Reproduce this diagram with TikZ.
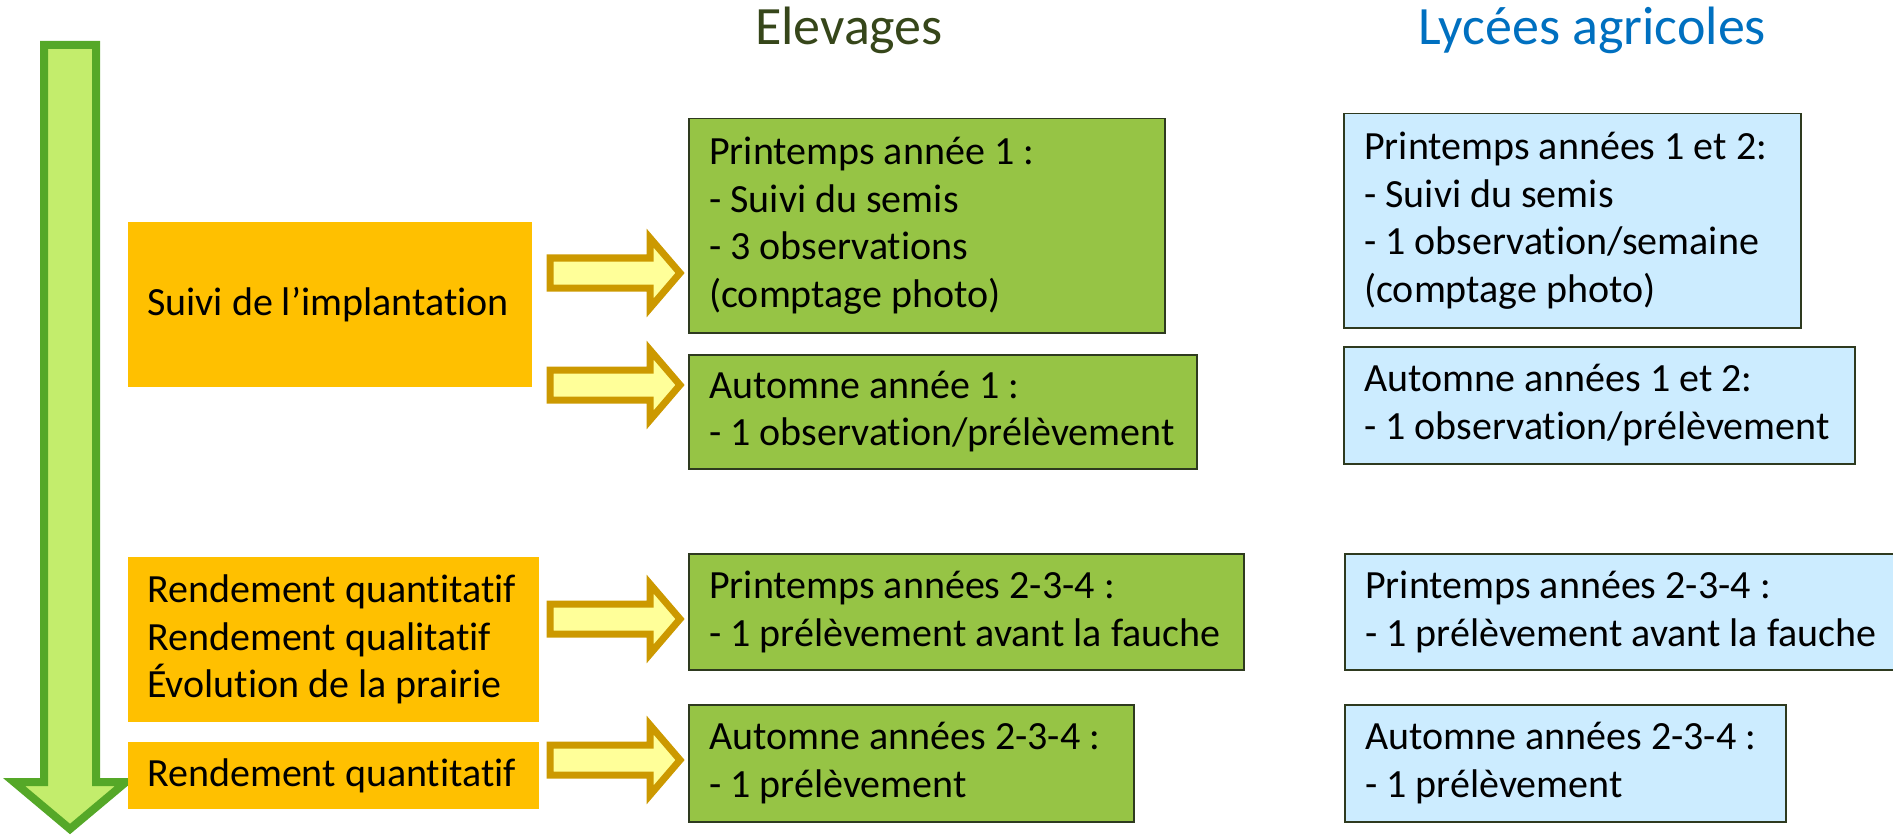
\documentclass[tikz,border=0pt]{standalone}
\usepackage{fontspec}
\setmainfont{Carlito}[Ligatures=NoCommon]
\usetikzlibrary{positioning}

\definecolor{orangebox}{HTML}{FFC000}
\definecolor{greenbox}{HTML}{96C445}
\definecolor{bluebox}{HTML}{CCECFF}
\definecolor{boxline}{HTML}{2E3A1F}
\definecolor{arrowfill}{HTML}{FFFF99}
\definecolor{arrowline}{HTML}{CC9900}
\definecolor{timefill}{HTML}{C3ED6C}
\definecolor{timeline}{HTML}{55A828}
\definecolor{elevtitle}{HTML}{36461A}
\definecolor{lyctitle}{HTML}{0070C0}

\tikzstyle{box} = [anchor=north west, inner sep=0pt]
\tikzstyle{theme} = [box, fill=orangebox]
\tikzstyle{elevage} = [box, fill=greenbox, draw=boxline, line width=1.5pt]
\tikzstyle{lycee} = [box, fill=bluebox, draw=boxline, line width=1.5pt]
\tikzstyle{boxtext} = [font=\fontsize{40}{47.5}\selectfont, align=left, anchor=west, inner sep=0pt]
\tikzstyle{title} = [font=\fontsize{54}{60}\selectfont, anchor=base]
\tikzstyle{blockarrow} = [draw=arrowline, fill=arrowfill, line width=7pt, line join=miter]
\tikzstyle{timearrow} = [draw=timeline, fill=timefill, line width=8pt, line join=miter]

\begin{document}
\begin{tikzpicture}[x=1pt, y=-1pt]
    \useasboundingbox (0,0) rectangle (1893,837);

    % titles
    \node[title, text=elevtitle] (elevages) at (849,45) {Elevages};
    \node[title, text=lyctitle] (lycees) at (1592,45) {Lycées agricoles};

    % time arrow
    \draw[timearrow] (44,45) -- (96,45) -- (96,782) -- (126,782) -- (70,829)
      -- (14,782) -- (44,782) -- cycle;

    % boxes
    \foreach \nodename/\kind/\x/\y/\w/\h/\pad/\content in {
      o1/theme/128/222/404/165/19/{Suivi de l’implantation},
      o2/theme/128/557/411/165/19/{Rendement quantitatif\\Rendement qualitatif\\Évolution de la prairie},
      o3/theme/128/742/411/67/19/{Rendement quantitatif},
      g1/elevage/688/118/476/214/21/{Printemps année 1 :\\- Suivi du semis\\- 3 observations\\(comptage photo)},
      g2/elevage/688/354/508/114/21/{Automne année 1 :\\- 1 observation/prélèvement},
      g3/elevage/688/553/555/116/21/{Printemps années 2-3-4 :\\- 1 prélèvement avant la fauche},
      g4/elevage/688/704/445/117/21/{Automne années 2-3-4 :\\- 1 prélèvement},
      b1/lycee/1343/113/457/214/21/{Printemps années 1 et 2:\\- Suivi du semis\\- 1 observation/semaine\\(comptage photo)},
      b2/lycee/1343/346/511/117/21/{Automne années 1 et 2:\\- 1 observation/prélèvement},
      b3/lycee/1344/553/552/116/21/{Printemps années 2-3-4 :\\- 1 prélèvement avant la fauche},
      b4/lycee/1344/704/441/117/21/{Automne années 2-3-4 :\\- 1 prélèvement}}
    {
      \node[\kind, minimum width=\w pt, minimum height=\h pt] (\nodename) at (\x,\y) {};
      \node[boxtext] (\nodename-text) at ([xshift=\pad pt]\nodename.west) {\content};
    }

    % block arrows
    \foreach \cy in {273, 385, 619, 760}
    {
      \draw[blockarrow] (550,\cy-15) -- (650,\cy-15) -- (650,\cy-35) -- (680,\cy)
        -- (650,\cy+35) -- (650,\cy+15) -- (550,\cy+15) -- cycle;
    }
\end{tikzpicture}
\end{document}
